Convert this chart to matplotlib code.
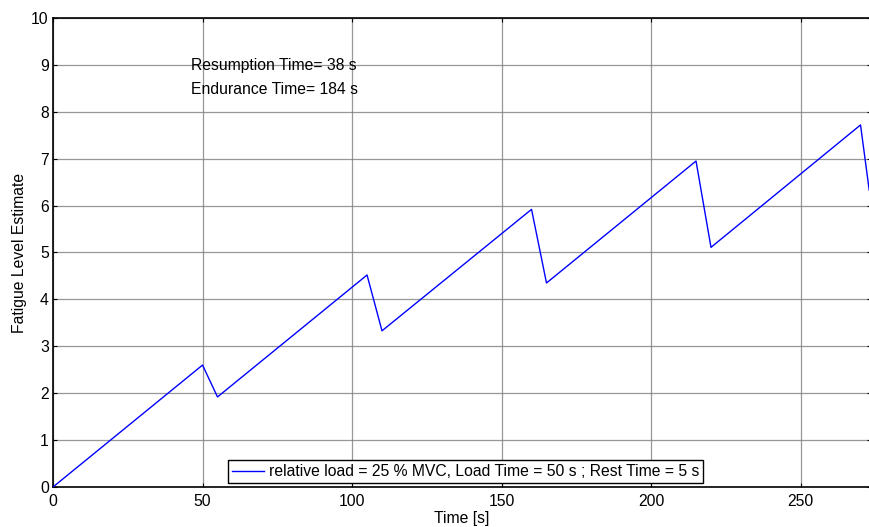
import matplotlib
matplotlib.use("Agg")
import matplotlib.pyplot as plt

plt.rcParams['font.family'] = ['Liberation Sans', 'DejaVu Sans']

time_s = [0, 50, 55, 105, 110, 160, 165, 215, 220, 270, 272.9]
fatigue = [0.0, 2.60, 1.92, 4.52, 3.33, 5.92, 4.35, 6.95, 5.11, 7.72, 6.33]
xticks = [0, 50, 100, 150, 200, 250]
yticks = list(range(0, 11))
legend_label = "relative load = 25 % MVC, Load Time = 50 s ; Rest Time = 5 s"
annot1 = "Resumption Time= 38 s"
annot2 = "Endurance Time= 184 s"

FS = 11.3
W, H = 870, 527
fig = plt.figure(figsize=(W/100, H/100), dpi=100)
left, right, top, bottom = 53, 871, 18, 487
ax = fig.add_axes([left/W, 1 - bottom/H, (right-left)/W, (bottom-top)/H])

ax.plot(time_s, fatigue, color='#0000ff', lw=1.0, label=legend_label, zorder=3)
ax.set_xlim(0, 273.5)
ax.set_ylim(0, 10)
ax.set_xticks(xticks)
ax.set_yticks(yticks)
ax.grid(True, color='#7f7f7f', lw=0.9, alpha=0.8)
ax.set_axisbelow(True)
ax.tick_params(direction='in', length=3, top=True, right=True, labelsize=FS, width=0.8)
ax.tick_params(axis='x', pad=5)
ax.tick_params(axis='y', pad=3)
for s in ax.spines.values():
    s.set_linewidth(1.2)
    s.set_color('black')

ax.set_xlabel("Time [s]", fontsize=FS, labelpad=1.5)
ax.set_ylabel("Fatigue Level Estimate", fontsize=FS, labelpad=3)

ax.text(46.0, 8.99, annot1, fontsize=FS, va='center', ha='left')
ax.text(46.0, 8.48, annot2, fontsize=FS, va='center', ha='left')

leg = ax.legend(loc='lower center', bbox_to_anchor=(0.504, 0.0), fontsize=FS,
                frameon=True, fancybox=False, edgecolor='black', framealpha=1,
                handlelength=2.05, handletextpad=0.3, borderpad=0.25, borderaxespad=0.25)
leg.get_frame().set_linewidth(1.0)

fig.savefig("out.png", dpi=100)
